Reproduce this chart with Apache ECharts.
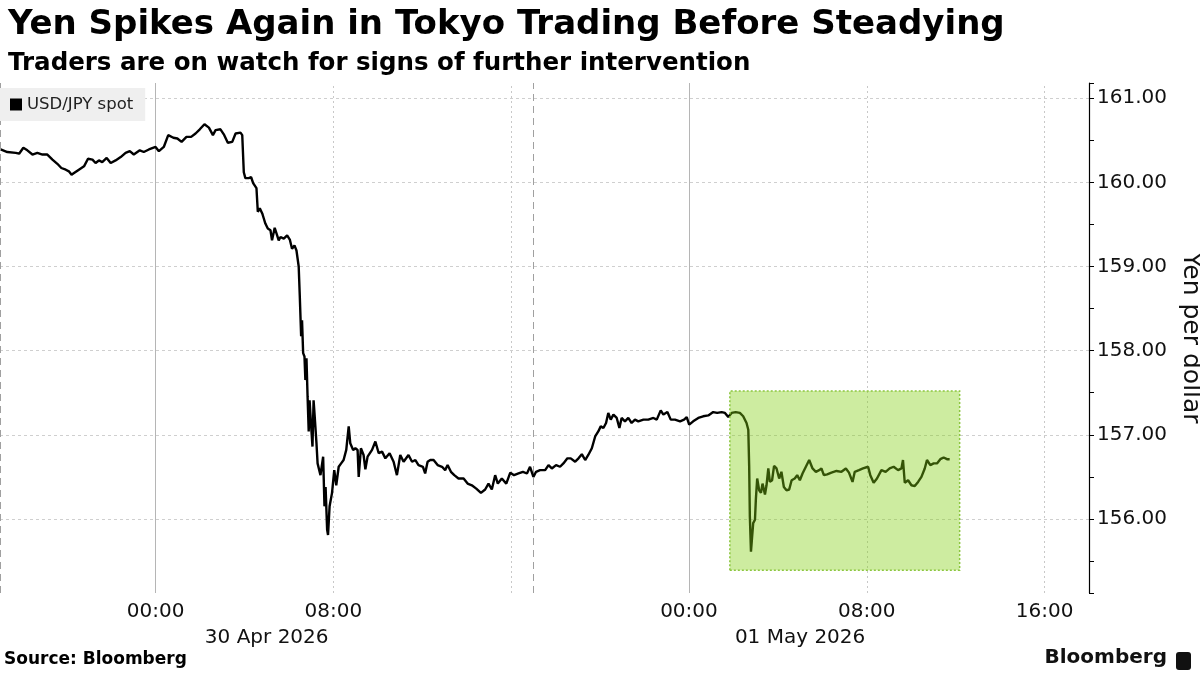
<!DOCTYPE html>
<html>
<head>
<meta charset="utf-8">
<script src="https://cdn.jsdelivr.net/npm/echarts@6/dist/echarts.min.js"></script>
<style>
html,body{margin:0;padding:0;background:#fff;}
#chart{width:1200px;height:675px;}
</style>
</head>
<body>
<div id="chart"></div>
<script>
// Hours relative to 00:00, 30 Apr 2026
const timeHours = [
-6.97,-6.67,-6.29,-6.14,-5.95,-5.77,-5.54,-5.32,-5.09,-4.87,-4.64,-4.42,-4.24,-4.04,-3.90,-3.78,-3.67,-3.45,-3.22,-3.04,
-2.84,-2.70,-2.55,-2.40,-2.20,-2.02,-1.80,-1.57,-1.35,-1.16,-0.98,-0.71,-0.53,-0.30,0.00,0.15,0.37,0.57,0.80,0.98,
1.17,1.39,1.60,1.80,1.99,2.20,2.40,2.58,2.70,2.92,3.07,3.25,3.45,3.60,3.82,3.90,3.97,4.04,4.19,4.30,
4.39,4.54,4.60,4.69,4.80,4.87,4.94,5.05,5.17,5.24,5.36,5.47,5.54,5.62,5.77,5.92,6.04,6.14,6.25,6.34,
6.44,6.49,6.55,6.59,6.64,6.70,6.74,6.79,6.84,6.89,6.93,7.01,7.06,7.11,7.16,7.24,7.29,7.42,7.54,7.60,
7.65,7.72,7.76,7.83,7.94,8.04,8.13,8.24,8.35,8.46,8.58,8.69,8.76,8.89,8.99,9.09,9.14,9.24,9.36,9.44,
9.54,9.74,9.89,10.04,10.19,10.34,10.53,10.71,10.86,11.01,11.16,11.38,11.54,11.69,11.83,12.03,12.13,12.24,12.36,12.51,
12.69,12.89,13.03,13.14,13.29,13.44,13.63,13.86,14.04,14.23,14.43,14.64,14.83,14.98,15.13,15.28,15.40,15.58,15.78,15.96,
16.13,16.33,16.53,16.71,16.85,17.00,17.12,17.30,17.53,17.68,17.83,18.02,18.20,18.35,18.53,18.68,18.88,19.03,19.18,19.33,
19.47,19.63,19.78,19.92,20.03,20.15,20.27,20.37,20.48,20.60,20.75,20.87,20.97,21.12,21.27,21.42,21.57,21.72,21.95,22.17,
22.40,22.55,22.73,22.85,23.03,23.18,23.37,23.60,23.78,23.90,24.01,24.19,24.42,24.64,24.87,25.09,25.27,25.47,25.62,25.77,
25.92,26.10,26.29,26.44,26.59,26.67,26.71,26.74,26.79,26.84,26.89,26.97,27.01,27.07,27.16,27.24,27.31,27.42,27.49,27.57,
27.64,27.74,27.83,27.94,28.06,28.16,28.27,28.39,28.51,28.62,28.76,28.87,28.99,29.11,29.26,29.41,29.56,29.71,29.86,29.96,
30.07,30.22,30.41,30.64,30.86,31.06,31.20,31.36,31.46,31.65,31.83,32.06,32.16,32.31,32.46,32.66,32.85,33.03,33.21,33.41,
33.56,33.63,33.71,33.86,34.01,34.16,34.31,34.46,34.61,34.71,34.86,35.01,35.16,35.31,35.46,35.61,35.73
];
const usdJpy = [
160.39,160.36,160.35,160.34,160.41,160.38,160.33,160.35,160.33,160.33,160.27,160.22,160.17,160.15,160.13,160.09,160.11,160.15,160.19,160.28,
160.27,160.23,160.26,160.24,160.29,160.23,160.26,160.30,160.35,160.37,160.33,160.38,160.36,160.39,160.42,160.37,160.42,160.56,160.53,160.52,
160.48,160.54,160.54,160.58,160.63,160.69,160.65,160.56,160.62,160.63,160.57,160.47,160.48,160.58,160.59,160.56,160.12,160.05,160.05,160.06,
159.99,159.93,159.65,159.69,159.63,159.57,159.51,159.45,159.43,159.31,159.46,159.37,159.31,159.35,159.33,159.37,159.32,159.21,159.25,159.19,
159.00,158.64,158.17,158.36,157.97,157.93,157.65,157.91,157.45,157.04,157.41,157.06,156.86,157.41,157.22,156.90,156.66,156.52,156.74,156.15,
156.38,155.87,155.81,156.15,156.31,156.58,156.40,156.62,156.66,156.70,156.82,157.10,156.90,156.82,156.84,156.82,156.50,156.84,156.76,156.59,
156.74,156.82,156.92,156.78,156.80,156.72,156.78,156.68,156.52,156.76,156.68,156.76,156.68,156.70,156.64,156.62,156.54,156.68,156.70,156.70,
156.64,156.62,156.58,156.64,156.56,156.52,156.48,156.48,156.42,156.40,156.36,156.31,156.35,156.42,156.35,156.52,156.42,156.48,156.42,156.55,
156.52,156.54,156.56,156.54,156.62,156.50,156.56,156.58,156.58,156.64,156.60,156.64,156.62,156.66,156.72,156.72,156.68,156.72,156.77,156.70,
156.76,156.84,156.98,157.04,157.10,157.08,157.14,157.26,157.18,157.24,157.20,157.08,157.20,157.16,157.20,157.14,157.18,157.16,157.18,157.18,
157.20,157.18,157.29,157.24,157.27,157.18,157.18,157.16,157.18,157.21,157.12,157.16,157.20,157.22,157.23,157.27,157.26,157.27,157.26,157.21,
157.26,157.27,157.26,157.22,157.14,157.06,156.62,156.03,155.61,155.59,155.95,155.99,156.23,156.48,156.34,156.31,156.42,156.29,156.40,156.60,
156.44,156.46,156.63,156.60,156.48,156.56,156.38,156.34,156.35,156.46,156.48,156.52,156.46,156.54,156.62,156.70,156.60,156.56,156.58,156.60,
156.52,156.53,156.55,156.57,156.56,156.60,156.55,156.44,156.56,156.58,156.60,156.62,156.52,156.43,156.48,156.58,156.56,156.60,156.62,156.58,
156.60,156.70,156.43,156.46,156.40,156.39,156.44,156.50,156.60,156.70,156.64,156.66,156.66,156.71,156.73,156.71,156.71
];

// Axis ticks / labels
const xRange = [-7, 42];
const yRange = [155.12, 161.18];
const tickHours = [0, 8, 24, 32, 40];
const tickLabels = ['00:00', '08:00', '00:00', '08:00', '16:00'];
const dateHours = [5, 29];
const dateLabels = ['30 Apr 2026', '01 May 2026'];
const midnightHours = [0, 24];
const gridHours = [8, 16, 32, 40];
const sessionHours = [-7, 17];
// Highlighted window (hours / yen)
const highlightX = [25.84, 36.18];
const highlightY = [155.39, 157.52];

const FONT = 'DejaVu Sans';
const chart = echarts.init(document.getElementById('chart'), null, {renderer: 'canvas'});

const lineData = timeHours.map((t, i) => [t, usdJpy[i]]);
const vLines = []
  .concat(midnightHours.map(h => ({xAxis: h, lineStyle: {color: '#b5b5b5', type: 'solid', width: 1}})))
  .concat(gridHours.map(h => ({xAxis: h, lineStyle: {color: '#c8c8c8', type: [2, 3], width: 1}})))
  .concat(sessionHours.map(h => ({xAxis: h, lineStyle: {color: '#a0a0a0', type: [7, 5], width: 1}})));

function xLabel(v) {
  const r = Math.round(v * 100) / 100;
  const i = tickHours.indexOf(r);
  if (i >= 0) return tickLabels[i];
  const j = dateHours.indexOf(r);
  if (j >= 0) return '\n' + dateLabels[j];
  return '';
}

chart.setOption({
  animation: false,
  backgroundColor: '#ffffff',
  title: [
    {text: 'Yen Spikes Again in Tokyo Trading Before Steadying', left: 3, top: 3,
     textStyle: {fontFamily: FONT, fontWeight: 'bold', fontSize: 34, color: '#000'}},
    {text: 'Traders are on watch for signs of further intervention', left: 3, top: 46,
     textStyle: {fontFamily: FONT, fontWeight: 'bold', fontSize: 24.5, color: '#000'}}
  ],
  legend: {
    data: ['USD/JPY spot'], left: 0, top: 88, orient: 'horizontal',
    backgroundColor: '#efefef', padding: [8, 12, 8, 10],
    icon: 'rect', itemWidth: 12, itemHeight: 12, itemGap: 6,
    textStyle: {fontFamily: FONT, fontSize: 16.5, color: '#222'}
  },
  grid: {left: 0, right: 111, top: 83, bottom: 82, containLabel: false, outerBoundsMode: 'none'},
  xAxis: {
    type: 'value', min: xRange[0], max: xRange[1], interval: 1,
    axisLine: {show: false, onZero: false}, axisTick: {show: false}, splitLine: {show: false},
    axisLabel: {formatter: xLabel, fontFamily: FONT, fontSize: 20, color: '#111', lineHeight: 26, margin: 6,
                showMinLabel: true, showMaxLabel: true}
  },
  yAxis: {
    type: 'value', position: 'right', min: yRange[0], max: yRange[1], splitNumber: 6,
    name: 'Yen per dollar', nameLocation: 'middle', nameRotate: -90, nameGap: 86,
    nameTextStyle: {fontFamily: FONT, fontSize: 25, color: '#111'},
    axisLine: {show: true, onZero: false, lineStyle: {color: '#000', width: 1.2}},
    axisTick: {show: true, length: 5, lineStyle: {color: '#000'}},
    minorTick: {show: true, splitNumber: 2, length: 5, lineStyle: {color: '#000'}},
    splitLine: {show: true, showMinLine: false, showMaxLine: false, lineStyle: {color: '#cfcfcf', type: [3, 3]}},
    axisLabel: {formatter: v => v.toFixed(2), fontFamily: FONT, fontSize: 20, color: '#111', margin: 8,
                showMinLabel: false, showMaxLabel: false}
  },
  series: [
    {
      name: 'grid-lines', type: 'line', data: [], z: 1, silent: true,
      markLine: {silent: true, symbol: ['none', 'none'], z: 1, label: {show: false}, data: vLines}
    },
    {
      name: 'USD/JPY spot', type: 'line', data: lineData, z: 2, showSymbol: false, symbol: 'none',
      color: '#000', lineStyle: {color: '#000', width: 2.4}
    },
    {
      name: 'highlight', type: 'line', data: [], z: 10, silent: true,
      markArea: {
        silent: true, z: 10,
        itemStyle: {color: 'rgba(130,207,18,0.4)', borderColor: '#8cc63f', borderWidth: 1.5, borderType: [2, 2]},
        data: [[{xAxis: highlightX[0], yAxis: highlightY[0]}, {xAxis: highlightX[1], yAxis: highlightY[1]}]]
      }
    }
  ],
  graphic: [
    {type: 'text', left: 4, top: 651, style: {text: 'Source: Bloomberg', fontFamily: FONT, fontWeight: 'bold', fontSize: 17, fill: '#000'}},
    {type: 'text', right: 33, top: 648, style: {text: 'Bloomberg', fontFamily: FONT, fontWeight: 'bold', fontSize: 20, fill: '#111'}},
    {type: 'rect', right: 9, top: 652, shape: {width: 15, height: 18, r: 3}, style: {fill: '#111'}}
  ]
});
</script>
</body>
</html>
